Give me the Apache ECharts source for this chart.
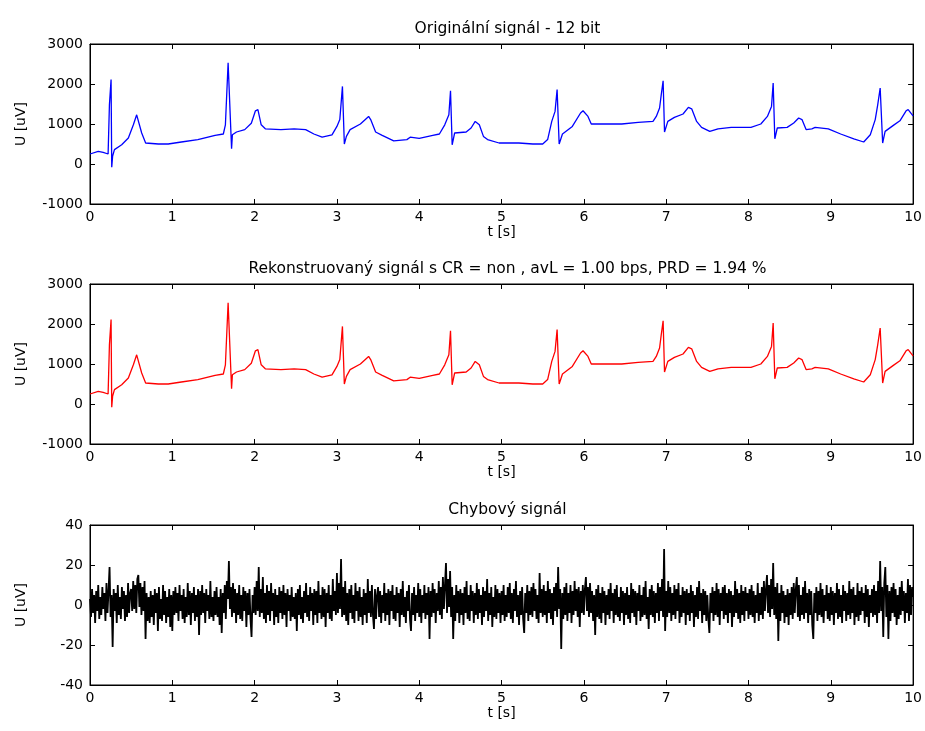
<!DOCTYPE html>
<html><head><meta charset="utf-8">
<script src="https://cdn.jsdelivr.net/npm/echarts@6/dist/echarts.min.js"></script>
<style>html,body{margin:0;padding:0;background:#fff}#c{width:925px;height:731px}</style>
</head><body><div id="c"></div>
<script>
// ---- text ----
const panelTitles = [
  'Originální signál - 12 bit',
  'Rekonstruovaný signál s CR = non , avL = 1.00 bps, PRD = 1.94 %',
  'Chybový signál'
];
const xAxisName = 't [s]';
const yAxisName = 'U [uV]';

// ---- axes ----
const timeRange = [0, 10, 1];          // min, max, interval
const signalRange = [-1000, 3000, 1000];
const errorRange = [-40, 40, 20];

// ---- ECG signal (original) ----
const ecgTime = [0.00,0.10,0.16,0.22,0.236,0.256,0.264,0.275,0.297,0.385,0.466,0.527,0.567,0.587,0.628,0.676,0.83,0.95,1.11,1.31,1.52,1.62,1.645,1.678,1.72,1.73,1.78,1.88,1.96,2.01,2.04,2.08,2.13,2.32,2.48,2.62,2.72,2.82,2.94,3.00,3.035,3.067,3.09,3.115,3.16,3.285,3.385,3.41,3.47,3.55,3.69,3.85,3.89,4.00,4.165,4.245,4.31,4.36,4.38,4.40,4.43,4.57,4.63,4.68,4.73,4.78,4.83,4.97,5.21,5.38,5.50,5.56,5.61,5.65,5.675,5.70,5.74,5.86,5.96,5.99,6.05,6.09,6.26,6.46,6.66,6.84,6.88,6.92,6.94,6.963,6.98,7.02,7.10,7.205,7.27,7.31,7.37,7.43,7.53,7.63,7.79,8.03,8.15,8.23,8.28,8.30,8.32,8.35,8.47,8.55,8.61,8.65,8.70,8.77,8.81,8.97,9.12,9.28,9.40,9.48,9.54,9.57,9.60,9.63,9.66,9.76,9.84,9.915,9.94,9.99,10.0];
const ecgValue = [250,315,290,250,1480,2110,-80,200,360,480,650,980,1230,1210,775,525,500,500,550,610,715,750,980,2530,380,730,800,860,1020,1330,1360,980,880,860,880,860,750,670,730,940,1110,1940,500,690,860,1000,1190,1110,800,715,580,610,670,640,715,750,980,1230,1830,480,775,800,900,1065,980,690,610,525,525,500,500,610,1065,1315,1860,500,750,940,1275,1330,1190,1000,1000,1000,1040,1065,1190,1400,1730,2080,800,1065,1165,1250,1415,1380,1065,915,815,880,915,915,1000,1190,1440,2025,630,900,915,1025,1150,1110,860,880,915,880,750,630,550,730,1110,1480,1900,525,815,965,1080,1330,1360,1230,1200];
// reconstructed signal: visually identical to the original at this scale
const reconstructedValue = ecgValue.slice();

const errorSignal = [
3,-6,8,-4,5,-9,7,-3,10,-7,4,-5,9,-2,6,-8,11,-4,7,19,-6,5,-21,8,-3,6,-9,10,-5,4,-7,9,-2,7,-8,5,-6,11,-4,6,
8,-3,12,-2,10,-4,13,15,-1,11,-5,9,-3,12,-17,6,-8,4,-9,7,-6,5,-10,8,-4,6,-13,9,-7,3,-8,10,-5,7,-9,4,-6,8,-11,5,
-13,7,-5,9,-4,6,-8,10,-3,5,-7,8,-9,4,-6,11,-5,7,-10,6,-4,9,-8,5,-6,8,-15,7,-5,10,-4,6,-9,8,-3,5,-7,12,-6,4,
-8,7,-5,9,-6,4,-10,8,-14,6,-4,10,-7,12,3,22,-2,9,-6,11,-4,8,-9,6,-5,10,-7,5,-8,9,-3,7,-11,6,-5,8,-7,-16,5,-4,
9,-5,12,-3,19,-6,8,-4,14,-7,6,-9,10,-5,7,-8,11,-3,6,-10,8,-6,5,-9,9,-4,7,-7,10,-5,6,-11,8,-3,5,-8,9,-6,4,-7,
6,-13,8,-5,10,-7,4,-9,7,-4,11,-6,5,-8,9,-3,6,-10,8,-5,7,-9,12,-4,5,-7,9,-6,8,-11,6,-4,10,-7,5,-8,13,-3,7,-5,
16,-4,11,-2,23,-6,9,-5,12,-8,6,-10,8,-4,10,-7,5,-9,11,-3,7,-8,9,-6,4,-10,8,-5,6,-9,13,-4,7,-6,10,-5,-12,8,-7,5,
9,-6,7,-9,5,-4,11,-8,6,-5,8,-10,7,-3,10,-7,5,-8,9,-4,6,-11,8,-5,12,-6,4,-9,7,-3,10,-7,-13,6,-5,9,-8,5,-4,11,
-6,8,-9,5,-4,10,-7,6,-5,9,-17,7,-6,11,-4,8,-9,6,-3,12,-5,9,-7,14,-2,10,21,-4,13,-1,17,-6,9,-17,5,-8,10,-4,7,-9,
8,-5,6,-10,9,-4,12,-7,5,-8,10,-3,7,-9,6,-5,11,-7,8,-4,5,-10,9,-6,7,-3,13,-8,6,-5,9,-11,4,-6,10,-7,8,-4,6,-9,
7,-5,10,-8,5,-6,9,-4,11,-7,6,-9,8,-3,12,-6,5,-10,7,-5,9,-7,-14,6,-4,10,-8,7,-5,9,-6,11,-3,8,-7,5,-9,16,-4,8,
-6,10,-5,7,-9,12,-4,8,-7,6,-10,9,-3,11,-6,19,-2,8,-22,6,-7,9,-5,11,-8,6,-4,10,-9,7,-5,12,-3,8,-6,9,-11,7,-4,10,
-5,8,14,-3,9,-6,11,-4,7,-8,5,-15,8,-6,10,-7,6,-9,9,-4,7,-10,5,-5,8,-7,11,-3,6,-9,8,-5,10,-6,4,-8,9,-4,7,-10,
6,-5,9,-7,5,-9,11,-4,8,-6,7,-10,6,-3,10,-8,5,-6,9,-5,12,-7,4,-12,8,-5,10,-6,7,-9,6,-4,11,-8,9,-3,13,-6,28,-13,
7,-6,12,-4,9,-8,6,-5,10,-7,8,-3,11,-9,5,-6,9,-4,7,-10,8,-5,6,-8,10,-4,7,-11,5,-6,9,-7,12,-3,6,-9,8,-5,7,-8,
5,-7,-14,6,-4,9,-8,7,-5,11,-6,8,-10,6,-3,9,-7,10,-5,6,-9,8,-4,7,-11,5,-6,12,-4,8,-7,6,-9,10,-5,7,-8,9,-3,6,
-7,8,-5,10,-6,7,-9,5,-4,11,-8,6,-5,9,-7,12,-3,8,15,-4,10,-6,13,-2,21,-5,9,-7,11,-18,6,-8,10,-4,7,-9,5,-6,8,-10,
6,-5,9,-7,11,-4,8,14,-6,10,-8,5,-5,9,-7,12,-4,6,-9,8,-5,7,-10,-17,6,-4,9,-8,7,-5,11,-6,8,-9,5,-3,10,-7,6,-8,
9,-5,7,-10,6,-4,11,-7,8,-6,5,-9,10,-3,7,-8,6,-5,12,-7,8,-4,9,-10,5,-6,11,-8,7,-5,9,-3,6,-9,10,-6,8,-11,5,-4,
8,-6,10,-5,7,-9,12,-4,22,-3,9,-16,11,19,-6,10,-17,7,-8,9,-4,11,-6,8,-10,5,-7,9,-5,12,-3,7,-9,6,-4,13,-8,10,-5,9,
4
];
const errorDuration = 10;

// ---- layout / style ----
const FONT = 'DejaVu Sans, Verdana, sans-serif';
const FS = 14;
const TFS = 15.5;
const gridTops = [44, 284, 525];
const gridH = 160;
const plotLeft = 90, plotRight = 915;
const colors = ['#0000ff', '#ff0000', '#000000'];

const chart = echarts.init(document.getElementById('c'), null, {renderer: 'canvas'});

const grids = [], xAxes = [], yAxes = [], series = [], titles = [];
const ranges = [signalRange, signalRange, errorRange];

function pairs(xs, ys) { return xs.map((x, i) => [x, ys[i]]); }
const errStep = errorDuration / (errorSignal.length - 1);
const errorData = errorSignal.map((v, i) => [i * errStep, v]);
const datasets = [pairs(ecgTime, ecgValue), pairs(ecgTime, reconstructedValue), errorData];

for (let g = 0; g < 3; g++) {
  grids.push({left: plotLeft, right: 925 - plotRight, top: gridTops[g], height: gridH, show: true,
    borderColor: '#000', borderWidth: 1, backgroundColor: '#fff'});
  titles.push({text: panelTitles[g], left: (plotLeft + plotRight) / 2, textAlign: 'center', top: gridTops[g] - 28,
    textStyle: {fontFamily: FONT, fontSize: TFS, fontWeight: 'normal', color: '#000'}});
  const tick = {show: true, inside: true, length: 5, lineStyle: {color: '#000', width: 1}};
  const labelStyle = {fontFamily: FONT, fontSize: FS, color: '#000', formatter: v => String(v)};
  xAxes.push({type: 'value', gridIndex: g, min: timeRange[0], max: timeRange[1], interval: timeRange[2],
    position: 'bottom', name: xAxisName, nameLocation: 'middle', nameGap: 20,
    nameTextStyle: {fontFamily: FONT, fontSize: FS, color: '#000'},
    axisLine: {show: true, onZero: false, lineStyle: {color: '#000'}}, axisTick: tick,
    axisLabel: Object.assign({margin: 6}, labelStyle), splitLine: {show: false}});
  xAxes.push({type: 'value', gridIndex: g, min: timeRange[0], max: timeRange[1], interval: timeRange[2],
    position: 'top', axisLine: {show: true, onZero: false, lineStyle: {color: '#000'}}, axisTick: tick,
    axisLabel: {show: false}, splitLine: {show: false}});
  const r = ranges[g];
  yAxes.push({type: 'value', gridIndex: g, min: r[0], max: r[1], interval: r[2], position: 'left',
    name: yAxisName, nameLocation: 'middle', nameGap: 62, nameRotate: 90,
    nameTextStyle: {fontFamily: FONT, fontSize: FS, color: '#000'},
    axisLine: {show: true, onZero: false, lineStyle: {color: '#000'}}, axisTick: tick,
    axisLabel: Object.assign({margin: 7}, labelStyle), splitLine: {show: false}});
  yAxes.push({type: 'value', gridIndex: g, min: r[0], max: r[1], interval: r[2], position: 'right',
    axisLine: {show: true, onZero: false, lineStyle: {color: '#000'}}, axisTick: tick,
    axisLabel: {show: false}, splitLine: {show: false}});
  series.push({type: 'line', xAxisIndex: g * 2, yAxisIndex: g * 2, data: datasets[g],
    symbol: 'none', showSymbol: false, silent: true, clip: true,
    lineStyle: {color: colors[g], width: g === 2 ? 1.8 : 1.3}, progressive: 0});
}

chart.setOption({animation: false, backgroundColor: '#fff', textStyle: {fontFamily: FONT},
  title: titles, grid: grids, xAxis: xAxes, yAxis: yAxes, series: series});
</script></body></html>
